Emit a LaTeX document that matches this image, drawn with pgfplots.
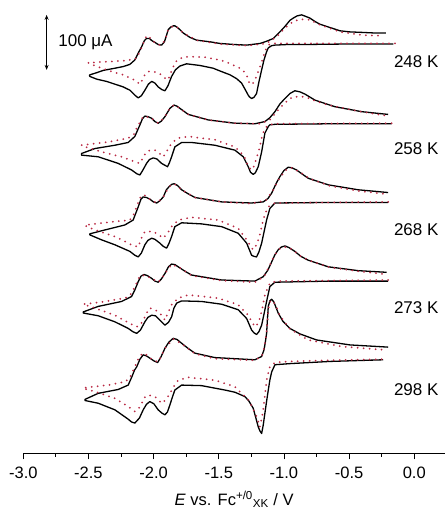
\documentclass[border=0pt]{standalone}
\usepackage{fontspec}
\setmainfont{Liberation Sans}
\usepackage{pgfplots}
\pgfplotsset{compat=1.18}
\usetikzlibrary{arrows.meta}
\definecolor{simred}{RGB}{185,42,68}

\begin{document}
\begin{tikzpicture}
\useasboundingbox (-23.3pt,-58.7pt) rectangle (421.7pt,453.3pt);
\begin{axis}[
    at={(0,0)}, anchor=south west,
    width=421.7pt, height=453.3pt, scale only axis,
    xmin=-3, xmax=0.236, ymin=0, ymax=824,
    axis x line=bottom, axis y line=none,
    axis line style={-, line width=0.8pt},
    xtick={-3,-2.5,-2,-1.5,-1,-0.5,0},
    xticklabels={-3.0,-2.5,-2.0,-1.5,-1.0,-0.5,0.0},
    minor x tick num=1,
    tick align=outside,
    major tick length=6pt, minor tick length=3.5pt,
    tick style={black, line width=0.8pt},
    tick label style={font=\fontsize{16.5}{19}\selectfont},
    xticklabel style={yshift=-4pt},
    xlabel={\textit{E} vs. Fc\textsuperscript{+/0}\textsubscript{XK} / V},
    xlabel style={font=\fontsize{16.5}{19}\selectfont, at={(axis description cs:0.5,0)}, anchor=base, yshift=-52pt},
    clip=false,
    exp/.style={black, line width=1.3pt, line join=round},
    sim/.style={simred, line width=2pt, line cap=round, dash pattern=on 0pt off 6pt},
]
% ---- 248 K ----
\addplot[exp] coordinates {
(-0.161,744) (-0.519,744) (-0.877,743) (-0.979,743) (-1.069,742) (-1.094,741) (-1.120,737) (-1.133,730)
(-1.153,715) (-1.171,697) (-1.192,675) (-1.210,654) (-1.230,647) (-1.248,645) (-1.265,648) (-1.274,651)
(-1.299,662) (-1.325,673) (-1.363,681) (-1.414,688) (-1.491,695) (-1.543,700) (-1.645,705) (-1.747,708)
(-1.798,704) (-1.833,697) (-1.862,685) (-1.890,668) (-1.913,659) (-1.936,661) (-1.965,666) (-1.990,673)
(-2.015,676) (-2.040,671) (-2.067,660) (-2.094,650) (-2.118,646) (-2.144,651) (-2.182,660) (-2.233,666)
(-2.297,671) (-2.361,676) (-2.435,680) (-2.489,685) (-2.493,687)
(-2.489,688) (-2.435,692) (-2.387,696) (-2.297,700) (-2.233,703) (-2.182,707) (-2.144,715) (-2.117,728)
(-2.092,739) (-2.071,750) (-2.054,754) (-2.032,754) (-2.013,750) (-1.990,747) (-1.965,743) (-1.939,742)
(-1.917,748) (-1.902,759) (-1.888,770) (-1.867,775) (-1.848,777) (-1.837,777) (-1.817,774) (-1.798,770)
(-1.773,764) (-1.721,756) (-1.670,751) (-1.568,748) (-1.491,745) (-1.376,743) (-1.286,742) (-1.184,745)
(-1.133,749) (-1.082,754) (-1.031,766) (-0.992,776) (-0.954,787) (-0.929,791) (-0.900,795) (-0.864,797)
(-0.831,794) (-0.800,791) (-0.762,785) (-0.724,780) (-0.647,774) (-0.570,768) (-0.493,766) (-0.391,765)
(-0.302,764) (-0.217,764)
};
% ---- 258 K ----
\addplot[exp] coordinates {
(-0.173,599) (-0.647,599) (-1.069,598) (-1.108,597) (-1.120,594) (-1.146,582) (-1.171,548) (-1.197,521)
(-1.219,510) (-1.236,507) (-1.257,511) (-1.274,521) (-1.312,539) (-1.376,551) (-1.530,560) (-1.708,565)
(-1.785,565) (-1.837,557) (-1.862,539) (-1.879,528) (-1.893,521) (-1.917,524) (-1.939,527) (-1.975,535)
(-2.003,537) (-2.032,534) (-2.054,527) (-2.082,515) (-2.105,506) (-2.128,508) (-2.169,515) (-2.272,527)
(-2.425,539) (-2.553,542)
(-2.553,545) (-2.450,554) (-2.297,560) (-2.195,565) (-2.144,576) (-2.105,597) (-2.086,608) (-2.067,613)
(-2.044,612) (-2.015,609) (-1.990,603) (-1.965,600) (-1.940,604) (-1.913,612) (-1.875,627) (-1.844,633)
(-1.821,631) (-1.798,627) (-1.734,616) (-1.581,606) (-1.376,600) (-1.223,599) (-1.146,603) (-1.108,610)
(-1.069,621) (-1.031,635) (-0.992,645) (-0.954,654) (-0.916,659) (-0.877,657) (-0.839,653) (-0.762,642)
(-0.609,630) (-0.404,621) (-0.200,616)
};
% ---- 268 K ----
\addplot[exp] coordinates {
(-0.200,456) (-0.647,456) (-1.069,455) (-1.108,445) (-1.133,424) (-1.153,402) (-1.171,382) (-1.192,366)
(-1.210,357) (-1.230,358) (-1.248,360) (-1.286,382) (-1.351,400) (-1.478,412) (-1.632,417) (-1.785,419)
(-1.837,412) (-1.862,394) (-1.883,381) (-1.900,373) (-1.925,376) (-1.952,382) (-1.990,389) (-2.015,391)
(-2.044,387) (-2.067,379) (-2.094,364) (-2.118,357) (-2.144,360) (-2.182,367) (-2.297,379) (-2.399,388)
(-2.489,397)
(-2.489,399) (-2.374,406) (-2.221,415) (-2.157,424) (-2.136,437) (-2.118,448) (-2.097,462) (-2.080,466)
(-2.055,465) (-2.029,462) (-2.002,457) (-1.977,455) (-1.952,459) (-1.926,466) (-1.902,479) (-1.880,485)
(-1.860,489) (-1.842,490) (-1.817,487) (-1.785,479) (-1.737,472) (-1.683,465) (-1.478,457) (-1.248,455)
(-1.159,457) (-1.123,463) (-1.094,473) (-1.061,490) (-1.031,503) (-1.000,514) (-0.967,520) (-0.939,519)
(-0.903,515) (-0.862,508) (-0.814,500) (-0.660,488) (-0.430,479) (-0.200,474)
};
% ---- 273 K ----
\addplot[exp] coordinates {
(-0.200,313) (-0.647,313) (-1.069,311) (-1.108,303) (-1.133,276) (-1.153,253) (-1.171,233) (-1.192,221)
(-1.210,216) (-1.230,219) (-1.248,224) (-1.286,245) (-1.351,261) (-1.478,271) (-1.632,276) (-1.785,277)
(-1.823,273) (-1.844,264) (-1.862,248) (-1.886,238) (-1.913,233) (-1.952,242) (-1.986,250) (-2.015,251)
(-2.044,247) (-2.067,239) (-2.101,224) (-2.130,218) (-2.159,221) (-2.195,227) (-2.297,239) (-2.425,250)
(-2.540,255)
(-2.540,257) (-2.425,267) (-2.246,276) (-2.169,285) (-2.144,297) (-2.118,312) (-2.097,322) (-2.074,325)
(-2.048,323) (-2.015,318) (-1.990,313) (-1.965,311) (-1.940,317) (-1.913,327) (-1.886,339) (-1.862,344)
(-1.837,343) (-1.811,339) (-1.760,331) (-1.708,324) (-1.478,315) (-1.223,313) (-1.159,321) (-1.123,333)
(-1.094,348) (-1.069,361) (-1.044,370) (-1.019,375) (-0.992,377) (-0.962,374) (-0.916,367) (-0.870,358)
(-0.814,351) (-0.660,339) (-0.430,332) (-0.212,329)
};
% ---- 298 K ----
\addplot[exp] coordinates {
(-0.238,170) (-0.647,167) (-0.954,163) (-1.069,161) (-1.094,148) (-1.108,133) (-1.120,115) (-1.134,93)
(-1.146,73) (-1.159,51) (-1.171,36) (-1.185,41) (-1.197,48) (-1.215,64) (-1.236,82) (-1.269,95)
(-1.299,103) (-1.376,111) (-1.453,115) (-1.632,123) (-1.785,124) (-1.837,115) (-1.856,102) (-1.875,88)
(-1.894,75) (-1.913,70) (-1.936,73) (-1.965,79) (-1.998,90) (-2.029,94) (-2.055,89) (-2.080,79)
(-2.109,64) (-2.144,55) (-2.170,57) (-2.195,62) (-2.297,79) (-2.425,91) (-2.527,96)
(-2.527,98) (-2.425,109) (-2.272,116) (-2.195,124) (-2.167,139) (-2.147,151) (-2.130,157) (-2.105,171)
(-2.080,179) (-2.055,177) (-2.029,173) (-1.998,168) (-1.969,165) (-1.944,175) (-1.913,191) (-1.883,202)
(-1.850,209) (-1.821,207) (-1.785,200) (-1.737,191) (-1.683,182) (-1.530,174) (-1.223,170) (-1.171,176)
(-1.153,188) (-1.144,200) (-1.133,218) (-1.127,242) (-1.120,267) (-1.108,277) (-1.094,280) (-1.077,275)
(-1.044,255) (-1.008,240) (-0.954,227) (-0.877,217) (-0.749,206) (-0.493,197) (-0.200,193)
};
% ---- simulations ----
\addplot[sim] coordinates {
(-0.148,745) (-0.777,745) (-1.069,745) (-1.108,744) (-1.130,739) (-1.146,730) (-1.161,719) (-1.171,711)
(-1.192,697) (-1.210,685) (-1.230,675) (-1.248,670) (-1.269,675) (-1.286,688) (-1.322,698) (-1.363,703)
(-1.430,710) (-1.491,715) (-1.606,720) (-1.721,721) (-1.773,720) (-1.814,716) (-1.837,709) (-1.860,697)
(-1.888,679) (-1.913,682) (-1.952,690) (-1.990,693) (-2.028,694) (-2.041,694) (-2.067,688) (-2.090,677)
(-2.105,671) (-2.128,675) (-2.159,680) (-2.233,688) (-2.297,692) (-2.361,697) (-2.435,703) (-2.502,710)
(-2.335,712) (-2.207,714) (-2.130,718) (-2.105,730) (-2.082,744) (-2.054,759) (-2.032,757) (-2.013,750)
(-1.965,743) (-1.939,742) (-1.913,751) (-1.888,770) (-1.848,777) (-1.817,774) (-1.773,764) (-1.670,751)
(-1.491,744) (-1.286,741) (-1.133,745) (-1.056,757) (-0.992,773) (-0.929,785) (-0.877,789) (-0.800,788)
(-0.724,779) (-0.570,766) (-0.391,760) (-0.238,759)
};
\addplot[sim] coordinates {
(-0.173,600) (-1.082,599) (-1.133,594) (-1.157,584) (-1.171,573) (-1.192,551) (-1.210,536) (-1.230,522)
(-1.248,515) (-1.274,521) (-1.292,533) (-1.312,542) (-1.376,557) (-1.530,570) (-1.734,576) (-1.811,573)
(-1.862,564) (-1.894,551) (-1.926,539) (-1.959,546) (-1.990,551) (-2.036,550) (-2.054,548) (-2.078,539)
(-2.105,527) (-2.144,530) (-2.246,539) (-2.399,548) (-2.553,559)
(-2.553,560) (-2.348,566) (-2.195,573) (-2.151,580) (-2.130,591) (-2.105,602) (-2.080,612) (-2.059,612)
(-2.015,609) (-1.965,600) (-1.940,605) (-1.913,612) (-1.875,627) (-1.844,633) (-1.798,627) (-1.734,616)
(-1.581,606) (-1.376,600) (-1.185,599) (-1.108,606) (-1.031,628) (-0.969,642) (-0.929,648) (-0.839,648)
(-0.762,641) (-0.660,633) (-0.430,622) (-0.225,614)
};
\addplot[sim] coordinates {
(-0.200,457) (-1.069,455) (-1.120,448) (-1.142,437) (-1.159,424) (-1.180,402) (-1.197,388) (-1.219,375)
(-1.236,370) (-1.257,377) (-1.286,388) (-1.351,409) (-1.504,424) (-1.708,429) (-1.811,424) (-1.862,412)
(-1.894,400) (-1.926,391) (-1.967,398) (-2.003,403) (-2.067,403) (-2.094,391) (-2.118,375) (-2.169,379)
(-2.297,394) (-2.450,406) (-2.527,414)
(-2.527,415) (-2.348,420) (-2.182,424) (-2.151,435) (-2.130,448) (-2.105,464) (-2.080,470) (-2.051,467)
(-2.029,462) (-1.977,455) (-1.952,460) (-1.926,466) (-1.880,485) (-1.842,490) (-1.785,479) (-1.683,465)
(-1.478,457) (-1.248,454) (-1.138,460) (-1.092,475) (-1.031,501) (-0.985,515) (-0.939,519) (-0.877,511)
(-0.800,499) (-0.647,486) (-0.430,477) (-0.212,471)
};
\addplot[sim] coordinates {
(-0.200,315) (-1.044,313) (-1.092,311) (-1.108,309) (-1.127,299) (-1.146,288) (-1.165,264) (-1.185,245)
(-1.203,235) (-1.223,230) (-1.246,239) (-1.274,251) (-1.351,270) (-1.504,282) (-1.734,288) (-1.811,282)
(-1.840,275) (-1.862,270) (-1.890,255) (-1.913,242) (-1.952,255) (-1.990,261) (-2.029,264) (-2.054,255)
(-2.078,242) (-2.105,233) (-2.130,230) (-2.182,236) (-2.297,251) (-2.450,264) (-2.540,271)
(-2.399,275) (-2.221,282) (-2.182,287) (-2.157,297) (-2.128,311) (-2.109,321) (-2.092,324) (-2.067,323)
(-2.015,318) (-1.965,311) (-1.940,317) (-1.913,327) (-1.862,343) (-1.811,339) (-1.708,323) (-1.478,314)
(-1.223,311) (-1.153,321) (-1.108,342) (-1.069,361) (-1.031,372) (-0.992,375) (-0.939,371) (-0.870,358)
(-0.800,350) (-0.647,338) (-0.430,331) (-0.238,326)
};
\addplot[sim] coordinates {
(-0.250,171) (-0.647,169) (-0.954,167) (-1.069,165) (-1.108,157) (-1.120,146) (-1.133,133) (-1.146,106)
(-1.159,79) (-1.173,61) (-1.185,48) (-1.196,57) (-1.210,67) (-1.242,84) (-1.274,97) (-1.376,121)
(-1.530,133) (-1.734,138) (-1.811,133) (-1.844,122) (-1.875,109) (-1.906,97) (-1.939,91) (-1.967,98)
(-1.990,103) (-2.040,106) (-2.067,102) (-2.097,88) (-2.121,79) (-2.144,76) (-2.195,85) (-2.297,100)
(-2.450,112) (-2.540,118)
(-2.540,119) (-2.348,124) (-2.221,130) (-2.182,137) (-2.157,151) (-2.128,166) (-2.105,177) (-2.080,182)
(-2.055,179) (-2.029,173) (-1.969,166) (-1.944,175) (-1.913,191) (-1.850,208) (-1.785,199) (-1.683,181)
(-1.530,172) (-1.223,169) (-1.169,177) (-1.150,193) (-1.134,219) (-1.120,261) (-1.104,277) (-1.088,278)
(-1.061,268) (-1.031,250) (-0.954,226) (-0.814,206) (-0.557,194) (-0.225,188)
};
% scale bar and labels
\draw[line width=0.8pt, <->, >={Stealth[length=5pt,width=4pt]}] (axis cs:-2.821,697) -- (axis cs:-2.821,797);
\node[anchor=west, font=\fontsize{17}{20}\selectfont] at (axis cs:-2.758,748) {100 μA};
\node[anchor=east, font=\fontsize{17}{20}\selectfont] at (axis cs:0.213,712) {248 K};
\node[anchor=east, font=\fontsize{17}{20}\selectfont] at (axis cs:0.213,553) {258 K};
\node[anchor=east, font=\fontsize{17}{20}\selectfont] at (axis cs:0.213,406) {268 K};
\node[anchor=east, font=\fontsize{17}{20}\selectfont] at (axis cs:0.213,264) {273 K};
\node[anchor=east, font=\fontsize{17}{20}\selectfont] at (axis cs:0.213,115) {298 K};
\end{axis}
\end{tikzpicture}
\end{document}
